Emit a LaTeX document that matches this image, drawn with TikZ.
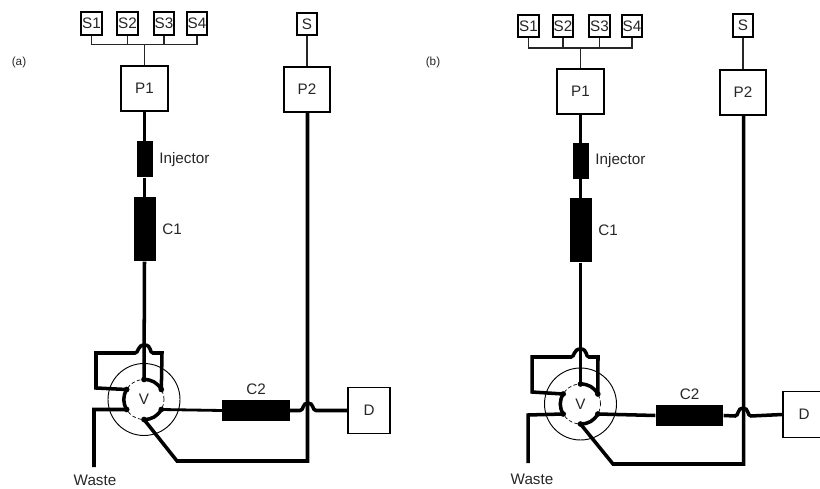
\documentclass[tikz,border=0pt]{standalone}
\usepackage{fontspec}
\setmainfont{Liberation Sans}
\usetikzlibrary{positioning}
\tikzset{
  lbl/.style={font=\fontsize{13}{15}\selectfont, text=black!85, inner sep=0pt},
  srcbox/.style={lbl, draw, line width=1.7pt, inner sep=0pt, minimum width=0.62cm, minimum height=0.68cm},
  pumpbox/.style={lbl, draw, line width=1.5pt, inner sep=0pt, minimum width=1.4cm, minimum height=1.35cm},
  detbox/.style={lbl, draw, line width=1.1pt, inner sep=0pt, minimum width=1.26cm, minimum height=1.36cm},
  injbox/.style={fill=black, inner sep=0pt, minimum width=0.48cm, minimum height=1.08cm},
  colbox/.style={fill=black, inner sep=0pt, minimum width=0.66cm, minimum height=1.92cm},
  hcolbox/.style={fill=black, inner sep=0pt, minimum width=2.03cm, minimum height=0.65cm},
  thinline/.style={line width=1.6pt, black!85},
  tube/.style={line width=3pt, line join=miter},
  valveout/.style={circle, draw, line width=0.8pt, inner sep=0pt, minimum size=2.16cm},
  valvein/.style={lbl, circle, draw, densely dashed, line width=0.6pt, inner sep=0pt, outer sep=0pt, minimum size=1.2cm},
  port/.style={circle, fill=black, inner sep=0pt, minimum size=0.17cm}
}
\begin{document}
\begin{tikzpicture}[x=0.03cm, y=-0.03cm]
  \useasboundingbox (0,0) rectangle (820,489);
  \clip (0,0) rectangle (820,489);
  % Panel a
  \node[lbl, font=\fontsize{10}{12}\selectfont] (taga) at (19,62) {(a)};
  \node[srcbox] (s1a) at (91.5,23.5) {S1};
  \node[srcbox] (s2a) at (127.5,23.5) {S2};
  \node[srcbox] (s3a) at (164,23.5) {S3};
  \node[srcbox] (s4a) at (197,23.5) {S4};
  \node[srcbox] (sa) at (307,24) {S};
  \node[pumpbox] (p1a) at (144.5,88.5) {P1};
  \node[pumpbox] (p2a) at (307,89.5) {P2};
  \coordinate (busa) at (144.5,44.5);
  \foreach \n in {s1a,s2a,s3a,s4a} \draw[thinline] (\n.south) |- (busa);
  \draw[thinline] (busa) -- (p1a.north);
  \draw[thinline] (sa.south) -- (p2a.north);
  % column train a
  \node[injbox] (inja) at (144.5,159.5) {};
  \node[colbox] (c1a) at (144.5,229.5) {};
  \node[lbl, right=5.5pt of inja] (injlaba) {Injector};
  \node[lbl, right=5.5pt of c1a] (c1laba) {C1};
  % valve a
  \node[valveout] (vouta) at (144,399.5) {};
  \node[valvein] (va) at (144,399.5) {V};
  \foreach \a in {90,30,-30,-90,210,150} \node[port] (pa\a) at (va.\a) {};
  \draw[tube] (pa90.center) to[bend left=30] (pa30.center);
  \draw[tube] (pa150.center) to[bend right=30] (pa210.center);
  \draw[tube] (pa-30.center) to[bend left=30] (pa-90.center);
  \draw[tube] (p1a.south) -- (inja.north);
  \draw[tube] (inja.south) -- (c1a.north);
  \draw[tube] (c1a.south) -- (pa90.center);
  % loop a
  \coordinate (la1) at (96,353);
  \coordinate (la2) at (96,388);
  \coordinate (la3) at (162,353);
  \coordinate (hla1) at (135,353);
  \coordinate (hla2) at (153,353);
  \draw[tube] (pa150.center) -- (la2) -- (la1) -- (hla1) .. controls (139,353) and (137,345) .. (144.5,345) .. controls (152,345) and (149,353) .. (hla2) -- (la3) -- (pa30.center);
  % waste a
  \coordinate (wa1) at (94,409.5);
  \coordinate (wa2) at (94,467);
  \draw[tube] (pa210.center) -- (wa1) -- (wa2);
  \node[lbl] (wlaba) at (95,480) {Waste};
  % C2 and detector a
  \node[hcolbox] (c2a) at (256,410.5) {};
  \node[lbl, above=3.5pt of c2a] (c2laba) {C2};
  \node[detbox] (da) at (369,410.5) {D};
  \coordinate (hra1) at (300,410.5);
  \coordinate (hra2) at (316,410.5);
  \draw[tube, line width=2.4pt] (pa-30.center) -- (c2a.west);
  \draw[tube] (c2a.east) -- (hra1) .. controls (304,410.5) and (302,403) .. (308,403) .. controls (314,403) and (312,410.5) .. (hra2) -- (da.west);
  % P2 return a
  \coordinate (ra1) at (177,461);
  \coordinate (ra2) at (307.5,461);
  \draw[tube] (p2a.south -| ra2) -- (ra2) -- (ra1) -- (pa-90.center);

  % Panel b
  \node[lbl, font=\fontsize{10}{12}\selectfont] (tagb) at (433,62) {(b)};
  \node[srcbox] (s1b) at (528.5,26) {S1};
  \node[srcbox] (s2b) at (563,26) {S2};
  \node[srcbox] (s3b) at (599.5,26) {S3};
  \node[srcbox] (s4b) at (632,26) {S4};
  \node[srcbox] (sb) at (743,25.5) {S};
  \node[pumpbox] (p1b) at (580.5,91.5) {P1};
  \node[pumpbox] (p2b) at (743,92.5) {P2};
  \coordinate (busb) at (580.5,48);
  \foreach \n in {s1b,s2b,s3b,s4b} \draw[thinline] (\n.south) |- (busb);
  \draw[thinline] (busb) -- (p1b.north);
  \draw[thinline] (sb.south) -- (p2b.north);
  % column train b
  \node[injbox] (injb) at (580.5,161) {};
  \node[colbox] (c1b) at (580.5,230.5) {};
  \node[lbl, right=5.5pt of injb] (injlabb) {Injector};
  \node[lbl, right=5.5pt of c1b] (c1labb) {C1};
  % valve b
  \node[valveout] (voutb) at (580.5,404) {};
  \node[valvein] (vb) at (580.5,404) {V};
  \foreach \a in {90,30,-30,-90,210,150} \node[port] (pb\a) at (vb.\a) {};
  \draw[tube] (pb90.center) to[bend left=30] (pb30.center);
  \draw[tube] (pb150.center) to[bend right=30] (pb210.center);
  \draw[tube] (pb-30.center) to[bend left=30] (pb-90.center);
  \draw[tube] (p1b.south) -- (injb.north);
  \draw[tube] (injb.south) -- (c1b.north);
  \draw[tube] (c1b.south) -- (pb90.center);
  % loop b
  \coordinate (lb1) at (532,357);
  \coordinate (lb2) at (532,392);
  \coordinate (lb3) at (598,357);
  \coordinate (hlb1) at (571,357);
  \coordinate (hlb2) at (589,357);
  \draw[tube] (pb150.center) -- (lb2) -- (lb1) -- (hlb1) .. controls (575,357) and (573,349) .. (580.5,349) .. controls (588,349) and (585,357) .. (hlb2) -- (lb3) -- (pb30.center);
  % waste b
  \coordinate (wb1) at (528,415);
  \coordinate (wb2) at (528,463);
  \draw[tube] (pb210.center) -- (wb1) -- (wb2);
  \node[lbl] (wlabb) at (532,479) {Waste};
  % C2 and detector b
  \node[hcolbox] (c2b) at (689.5,415.5) {};
  \node[lbl, above=3.5pt of c2b] (c2labb) {C2};
  \node[detbox] (db) at (804,414.5) {D};
  \coordinate (hrb1) at (735,416);
  \coordinate (hrb2) at (751,416);
  \draw[tube] (pb-30.center) -- (c2b.west);
  \draw[tube] (c2b.east) -- (hrb1) .. controls (739,416) and (737,408) .. (743,408) .. controls (749,408) and (747,416) .. (hrb2) -- (db.west);
  % P2 return b
  \coordinate (rb1) at (613,464);
  \coordinate (rb2) at (743.5,464);
  \draw[tube] (p2b.south -| rb2) -- (rb2) -- (rb1) -- (pb-90.center);
\end{tikzpicture}
\end{document}
